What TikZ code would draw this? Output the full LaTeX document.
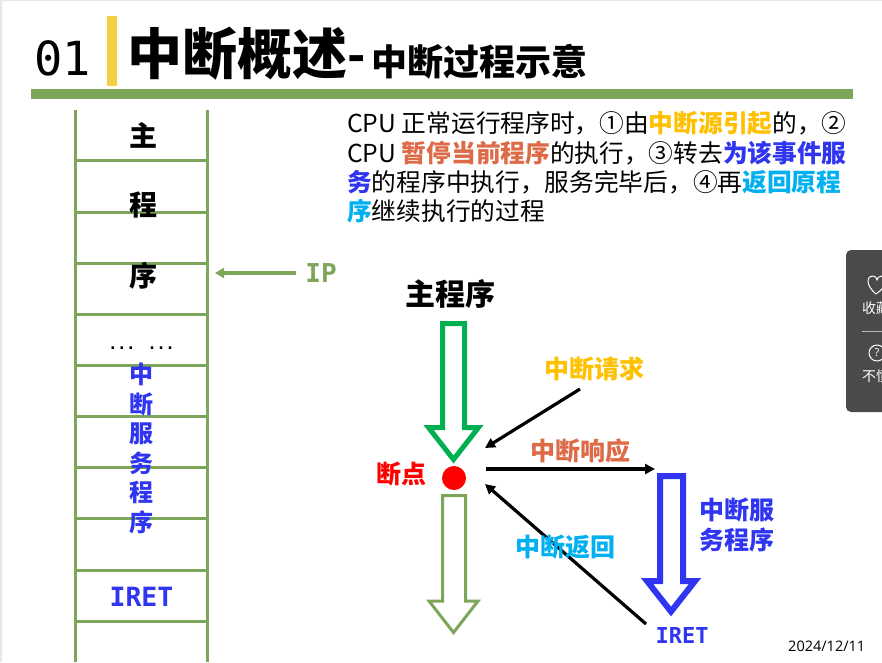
\documentclass[tikz,border=0pt]{standalone}
\usepackage{fontspec}
\usepackage{xcolor}
\usetikzlibrary{arrows.meta}
\newfontfamily\cjk{Noto Sans CJK SC}
\newfontfamily\dejamono{DejaVu Sans Mono}
\newfontfamily\datefont{Open Sans}
\newcommand{\fsz}[1]{\fontsize{#1}{#1}\selectfont}
\definecolor{olivegreen}{HTML}{7EA65A}
\definecolor{baryellow}{HTML}{F6D043}
\definecolor{srcyellow}{HTML}{FFC000}
\definecolor{stoporange}{HTML}{DE6B48}
\definecolor{isrblue}{HTML}{2F35F0}
\definecolor{retcyan}{HTML}{00B0F0}
\definecolor{maingreen}{HTML}{00B050}
\definecolor{panelgray}{HTML}{4A4A4A}
\tikzset{
  lbl/.style={inner sep=0pt, font=\cjk\bfseries\fsz{#1}},
  mono/.style={inner sep=0pt, font=\dejamono\bfseries\fsz{#1}},
  side/.style={inner sep=0pt, text=white, anchor=west, font=\cjk\fsz{14}},
  para/.style={inner sep=0pt, anchor=base west, font=\cjk\fsz{24.7}},
  ladder/.style={olivegreen, line width=3pt},
  hollow/.style={line join=miter, miter limit=10, fill=white},
  link/.style={black, line width=3.2pt, -{Triangle[length=10pt,width=10pt]}}
}
\begin{document}
\begin{tikzpicture}[x=1pt,y=-1pt]
\clip[use as bounding box] (0,0) rectangle (882,662);
\fill[white] (0,0) rectangle (882,662);
\fill[black!9] (0,0) rectangle (2,662) (0,0) rectangle (882,1);

\node[inner sep=0pt, anchor=base west, font=\dejamono\fsz{47}] (num) at (34,75) {01};
\fill[baryellow] (107,16) rectangle (117,86);
\node[lbl=55, anchor=west] (title) at (127,54) {中断概述};
\node[lbl=48, anchor=west] (dash) at (347,64) {-};
\node[lbl=36, anchor=west] (subtitle) at (371.5,62) {中断过程示意};
\fill[olivegreen] (31,89) rectangle (853,99);

\draw[ladder] (75.5,110) -- (75.5,662)
              (207.5,110) -- (207.5,662);
\draw[ladder] (75.5,160.5) -- (207.5,160.5)
              (75.5,212) -- (207.5,212)
              (75.5,263) -- (207.5,263)
              (75.5,314.5) -- (207.5,314.5)
              (75.5,365) -- (207.5,365)
              (75.5,416.5) -- (207.5,416.5)
              (75.5,467.5) -- (207.5,467.5)
              (75.5,518.5) -- (207.5,518.5)
              (75.5,570) -- (207.5,570)
              (75.5,621) -- (207.5,621);

\node[lbl=28] (zhu) at (143,135) {主};
\node[lbl=28] (cheng) at (143,205) {程};
\node[lbl=28] (xu) at (143,276) {序};
\node[mono=15] (dots) at (141.5,348) {... ...};
\node[lbl=24, text=isrblue] (s1) at (141,374) {中};
\node[lbl=24, text=isrblue] (s2) at (141,404) {断};
\node[lbl=24, text=isrblue] (s3) at (141,434) {服};
\node[lbl=24, text=isrblue] (s4) at (141,463) {务};
\node[lbl=24, text=isrblue] (s5) at (141,492) {程};
\node[lbl=24, text=isrblue] (s6) at (141,522) {序};
\node[mono=26.5, text=isrblue] (iretl) at (141.5,597) {IRET};

\node[mono=26, text=olivegreen] (ip) at (321,273) {IP};
\coordinate (ipfrom) at (296,273);
\coordinate (ipto) at (215,273);
\draw[olivegreen, line width=3.2pt, -{Triangle[length=9pt,width=10pt]}] (ipfrom) -- (ipto);

\node[para] (l1) at (347,132.5) {CPU 正常运行程序时，①由\textcolor{srcyellow}{\bfseries 中断源引起}的，②};
\node[para] (l2) at (347,162) {CPU \textcolor{stoporange}{\bfseries 暂停当前程序}的执行，③转去\textcolor{isrblue}{\bfseries 为该事件服}};
\node[para] (l3) at (347,191) {\textcolor{isrblue}{\bfseries 务}的程序中执行，服务完毕后，④再\textcolor{retcyan}{\bfseries 返回原程}};
\node[para] (l4) at (347,220.5) {\textcolor{retcyan}{\bfseries 序}继续执行的过程};

\node[lbl=30] (mainlbl) at (450,294) {主程序};
\draw[maingreen, line width=5pt, hollow] (442.5,323.5) -- (464.5,323.5) -- (464.5,427.5) -- (478.5,427.5) -- (453.5,459.5) -- (428.5,427.5) -- (442.5,427.5) -- cycle;
\node[circle, fill=red, minimum size=24pt, inner sep=0pt] (bp) at (454,478) {};
\node[lbl=25, text=red] (bplbl) at (401.5,474) {断点};
\draw[olivegreen, line width=3pt, hollow] (442.5,495.5) -- (465.5,495.5) -- (465.5,601) -- (478,601) -- (453.5,632.5) -- (429,601) -- (442.5,601) -- cycle;

\node[lbl=25, text=srcyellow] (reqlbl) at (594.5,369) {中断请求};
\node[lbl=25, text=stoporange] (acklbl) at (580.5,451) {中断响应};
\node[lbl=25, text=isrblue, align=center] (isrlbl) at (737,525) {中断服\\[5pt]务程序};

\draw[isrblue, line width=6pt, hollow] (660,476) -- (683,476) -- (683,581) -- (695,581) -- (671,611.5) -- (647,581) -- (660,581) -- cycle;
\node[mono=22, text=isrblue] (iretr) at (682,635) {IRET};

\coordinate (reqfrom) at (580,389);
\coordinate (reqto) at (485,448);
\coordinate (ackfrom) at (486,469);
\coordinate (ackto) at (655,469);
\coordinate (retfrom) at (646,624);
\coordinate (retto) at (485,484);
\draw[link] (reqfrom) -- (reqto);
\draw[link] (ackfrom) -- (ackto);
\draw[link] (retfrom) -- (retto);
\node[lbl=25, text=retcyan] (retlbl) at (565,547) {中断返回};

\node[inner sep=0pt, anchor=west, font=\datefont\fsz{14.5}] (date) at (788,646) {2024/12/11};

\fill[panelgray, rounded corners=5pt] (846,250) rectangle (900,412);
\draw[white, line width=1pt] (876,294) .. controls (866,286) and (866,276) .. (873,276) .. controls (875,276) and (877,278) .. (877,280) .. controls (877,278) and (879,276) .. (882,276) .. controls (888,276) and (888,286) .. (876,294);
\node[side] (fav) at (862,308) {收藏};
\draw[white!60!panelgray, line width=0.7pt] (862,331) -- (882,331);
\node[circle, draw=white, line width=1pt, minimum size=16pt, inner sep=0pt, text=white, font=\datefont\fsz{11}] (help) at (877,353) {?};
\node[side] (dunno) at (862,376) {不懂};
\end{tikzpicture}
\end{document}
